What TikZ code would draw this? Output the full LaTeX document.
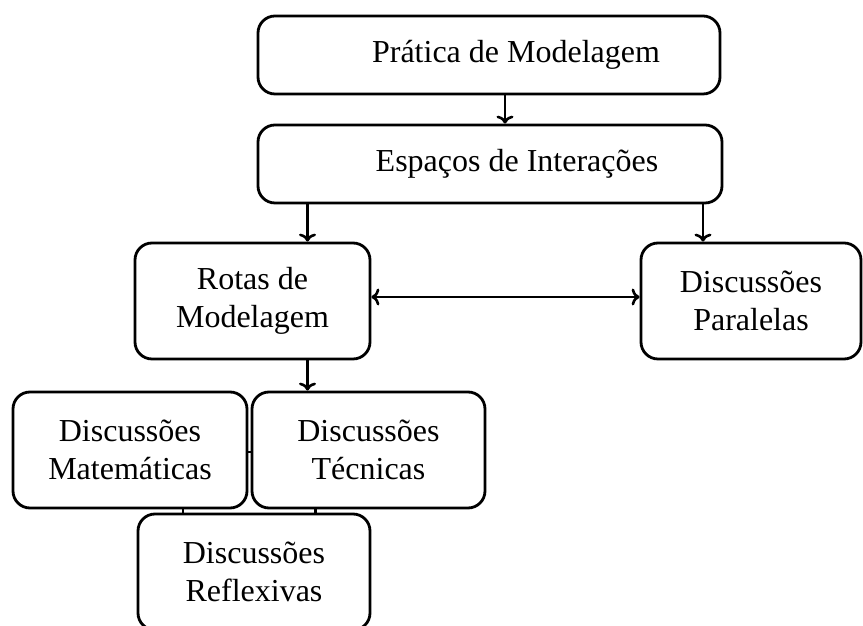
\documentclass[tikz,border=0pt]{standalone}
\usepackage{fontspec}
\setmainfont{Liberation Serif}
\usepackage{tikz}
\usetikzlibrary{positioning, arrows, arrows.meta}

\begin{document}
\begin{tikzpicture}[x=1pt, y=1pt,
  caixa/.style={draw, line width=2.8pt, rounded corners=17pt, align=center,
    inner sep=0pt, font=\fontsize{32}{38}\selectfont},
  seta/.style={line width=2.6pt, -{To[length=8pt, width=17pt]}}]
\useasboundingbox (0,0) rectangle (863,626);

\node[caixa, minimum width=462pt, minimum height=78pt] (Pratica) at (489,571) {\hspace*{54pt}Prática de Modelagem};
\node[caixa, minimum width=464pt, minimum height=78pt] (Espacos) at (490,462) {\hspace*{54pt}Espaços de Interações};
\node[caixa, minimum width=235pt, minimum height=116pt] (Rotas) at (252.5,325) {Rotas de\\Modelagem};
\node[caixa, minimum width=220pt, minimum height=116pt] (Paralelas) at (751,325) {Discussões\\Paralelas};
\node[caixa, minimum width=234pt, minimum height=116pt] (Mat) at (130,176) {Discussões\\Matemáticas};
\node[caixa, minimum width=233pt, minimum height=116pt] (Tec) at (368.5,176) {Discussões\\Técnicas};
\node[caixa, minimum width=232pt, minimum height=116pt] (Refl) at (254,54) {Discussões\\Reflexivas};

\draw[seta] ([xshift=16pt]Pratica.south) -- ([xshift=15pt]Espacos.north);
\draw[seta] ([xshift=55pt]Rotas.north |- Espacos.south) -- ([xshift=55pt]Rotas.north);
\draw[seta] ([xshift=-48pt]Paralelas.north |- Espacos.south) -- ([xshift=-48pt]Paralelas.north);
\draw[seta, {To[length=8pt, width=17pt]}-{To[length=8pt, width=17pt]}] ([yshift=4pt]Rotas.east) -- ([yshift=4pt]Paralelas.west);
\draw[seta] ([xshift=55pt]Rotas.south) -- ([xshift=55pt]Rotas.south |- Tec.north);
\draw[line width=2.6pt] ([yshift=-2pt]Mat.east) -- ([yshift=-2pt]Tec.west);
\draw[line width=2.6pt] ([xshift=53pt]Mat.south) -- ([xshift=53pt]Mat.south |- Refl.north);
\draw[line width=2.6pt] ([xshift=-53pt]Tec.south) -- ([xshift=-53pt]Tec.south |- Refl.north);
\end{tikzpicture}
\end{document}
